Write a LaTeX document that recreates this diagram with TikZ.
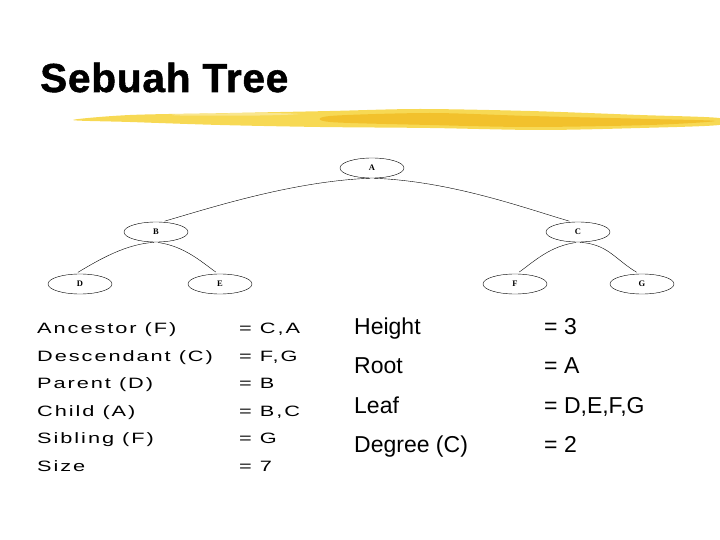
\documentclass[tikz,border=0pt]{standalone}
\usepackage{fontspec}
\setmainfont{Liberation Sans}
\newfontfamily\titlefont[FakeBold=1.3,LetterSpace=2]{Liberation Sans Bold}
\newfontfamily\listfont[FakeStretch=1.45,LetterSpace=13]{Liberation Sans}
\newfontfamily\nodefont{Liberation Serif}
\usetikzlibrary{shapes.geometric}
\definecolor{brushlight}{RGB}{247,217,84}
\definecolor{brushdark}{RGB}{240,184,28}
\tikzset{
  treenode/.style={draw, ellipse, thin, minimum width=64pt, minimum height=20pt,
    inner sep=0pt, font=\nodefont\bfseries\fontsize{8.5}{9}\selectfont},
  treeedge/.style={thin, shorten <=2pt, shorten >=3pt},
  listtext/.style={anchor=base west, inner sep=0pt, font=\listfont\fontsize{15}{18}\selectfont},
  bigtext/.style={anchor=base west, inner sep=0pt, font=\fontsize{23}{27}\selectfont}
}
\begin{document}
\begin{tikzpicture}[x=1pt,y=-1pt]
  \useasboundingbox (0,0) rectangle (720,540);
  % title with the brush stroke under it
  \node[anchor=base west, inner sep=0pt, font=\titlefont\fontsize{40.5}{44}\selectfont] (title) at (40,92) {Sebuah Tree};
  \fill[brushlight] plot[smooth cycle] coordinates {(73,120) (130,115) (230,113) (330,111) (420,109) (530,111)
    (640,115) (719,118) (719,125) (640,128) (540,130) (430,128) (320,127) (220,125) (130,122)};
  \fill[brushdark, opacity=.7] plot[smooth cycle] coordinates {(330,116) (430,113) (530,116) (650,119)
    (715,121) (650,125) (530,127) (430,125) (330,122)};
  \fill[white, opacity=.35] plot[smooth cycle] coordinates {(180,114) (260,113) (300,114) (260,115.5) (180,115.5)};
  % the tree
  \node[treenode] (A) at (372,168) {A};
  \node[treenode] (B) at (156,232) {B};
  \node[treenode] (C) at (578,232) {C};
  \node[treenode] (D) at (80,284) {D};
  \node[treenode] (E) at (220,284) {E};
  \node[treenode] (F) at (515,284) {F};
  \node[treenode] (G) at (642,284) {G};
  \draw[treeedge] (A.south) .. controls +(-80,3) and +(45,-13) .. (B.60);
  \draw[treeedge] (A.south) .. controls +(80,3) and +(-45,-13) .. (C.120);
  \draw[treeedge] (B.south) .. controls +(-30,2) and +(25,-15) .. (D.115);
  \draw[treeedge] (B.south) .. controls +(28,4) and +(-18,-13) .. (E.100);
  \draw[treeedge] (C.south) .. controls +(-28,4) and +(18,-13) .. (F.80);
  \draw[treeedge] (C.south) .. controls +(30,2) and +(-25,-15) .. (G.105);
  % terms on the left
  \foreach \i/\y/\term/\val in {1/333.5/{Ancestor (F)}/{= C,A}, 2/361/{Descendant (C)}/{= F,G},
      3/388.5/{Parent (D)}/{= B}, 4/416/{Child (A)}/{= B,C}, 5/443.5/{Sibling (F)}/{= G}, 6/471/{Size}/{= 7}}
  {
    \node[listtext] (k\i) at (37,\y) {\term};
    \node[listtext] (v\i) at (239,\y) {\val};
  }
  % terms on the right
  \foreach \i/\y/\term/\val in {1/334/{Height}/{= 3}, 2/373.5/{Root}/{= A},
      3/413/{Leaf}/{= D,E,F,G}, 4/452.5/{Degree (C)}/{= 2}}
  {
    \node[bigtext] (rk\i) at (354,\y) {\term};
    \node[bigtext] (rv\i) at (544,\y) {\val};
  }
\end{tikzpicture}
\end{document}
